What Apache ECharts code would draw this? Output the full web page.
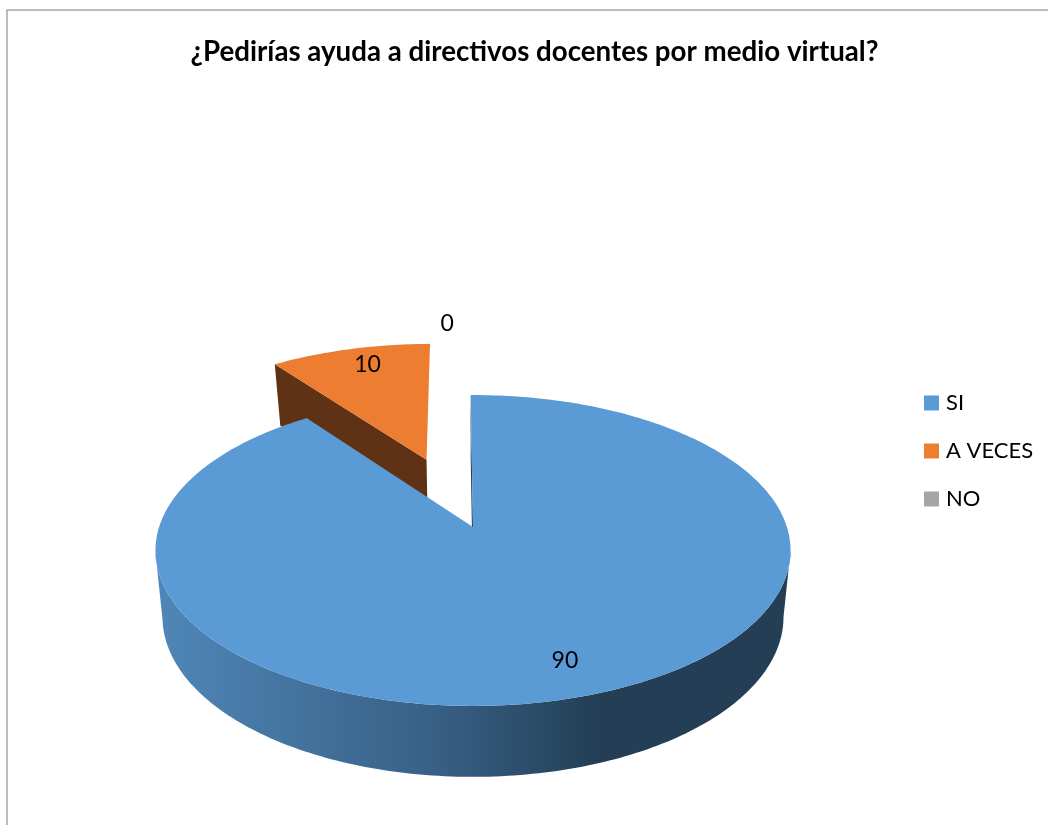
<!DOCTYPE html>
<html>
<head>
<meta charset="utf-8">
<title>Pie</title>
<script src="https://cdn.jsdelivr.net/npm/echarts@6/dist/echarts.min.js"></script>
<style>
  html, body { margin: 0; padding: 0; background: #fff; }
  #chart { width: 1048px; height: 825px; }
</style>
</head>
<body>
<div id="chart"></div>
<script>
const categories = ['SI', 'A VECES', 'NO'];
const values = [90, 10, 0];
const explodes = [0, 0.5, 0];

const topColors = ['#5B9BD5', '#ED7D31', '#A5A5A5'];
const wallColors = ['#233E55', '#5F3215', '#4A4A4A'];

// where each value label sits: radius from the pie centre, and a small angle nudge
const labelRadius = [0.815, 0.85, 1.69];
const labelNudge = [0, 1.9, -3];

// the pie is drawn by hand because echarts has no 3d pie: a circle seen in perspective
const viewTurn = -0.5;
const cx = 473;
const upper = { tipY: 527, a: 313.9, b: 151.9, k: 0.1511 };
const lower = { tipY: 592, a: 306.7, b: 156, k: 0.156 };

const total = values.reduce((s, v) => s + v, 0);

function sliceAngles(idx) {
  let before = 0;
  for (let i = 0; i < idx; i++) before += values[i];
  const start = before / total * 360;
  return [start, start + values[idx] / total * 360];
}

function project(deg, r, ex, midDeg, face) {
  const t = (deg + viewTurn) * Math.PI / 180;
  const m = (midDeg + viewTurn) * Math.PI / 180;
  const X = r * Math.sin(t) + ex * Math.sin(m);
  const Y = -r * Math.cos(t) - ex * Math.cos(m);
  const w = 1 - face.k * Y;
  return [cx + face.a * X / w, face.tipY + face.b * Y / w];
}

function arcPoints(from, to, ex, mid, face) {
  const pts = [];
  const n = Math.max(2, Math.ceil(to - from));
  for (let i = 0; i <= n; i++) {
    pts.push(project(from + (to - from) * i / n, 1, ex, mid, face));
  }
  return pts;
}

function poly(points, fill) {
  return { type: 'polygon', shape: { points: points }, style: { fill: fill }, silent: true };
}

// angle where a face is widest on screen, the rim silhouette runs between these
function widest(face) {
  return Math.acos(-face.k) * 180 / Math.PI - viewTurn;
}

const sideGradient = {
  type: 'linear', x: 156, y: 0, x2: 791, y2: 0, global: true,
  colorStops: [
    { offset: 0, color: '#4F87B8' },
    { offset: 0.45, color: '#375F84' },
    { offset: 0.7, color: '#233E55' },
    { offset: 1, color: '#233E55' }
  ]
};

function renderSlice(idx) {
  return function (params, api) {
    const value = api.value(0);
    const [a0, a1] = sliceAngles(idx);
    const mid = (a0 + a1) / 2;
    const ex = explodes[idx];
    const children = [];

    if (value > 0) {
      const wall = wallColors[idx];
      const c0 = project(0, 0, ex, mid, upper);
      const c1 = project(0, 0, ex, mid, lower);
      const topArc = arcPoints(a0, a1, ex, mid, upper);
      const lowArc = arcPoints(a0, a1, ex, mid, lower);

      // outer rim, only the front half shows
      const f0 = Math.max(a0, widest(upper));
      const f1 = Math.min(a1, 360 - widest(upper));
      if (f1 > f0) {
        const g0 = Math.max(a0, widest(lower));
        const g1 = Math.min(a1, 360 - widest(lower));
        const rimTop = arcPoints(f0, f1, ex, mid, upper);
        const rimLow = arcPoints(g0, g1, ex, mid, lower);
        children.push(poly(rimTop.concat(rimLow.reverse()), sideGradient));
      }
      // the cut wall that faces the viewer
      children.push(poly([c0, topArc[0], lowArc[0], c1], wall));
      // top face
      children.push(poly([c0].concat(topArc), topColors[idx]));
    }

    const p = project(mid + labelNudge[idx], labelRadius[idx], ex, mid, upper);
    children.push({
      type: 'text',
      x: p[0],
      y: p[1] + 1,
      z2: 10,
      silent: true,
      style: {
        text: String(value),
        fill: '#000',
        font: '23px Lato',
        align: 'center',
        verticalAlign: 'middle'
      }
    });
    return { type: 'group', children: children };
  };
}

const chart = echarts.init(document.getElementById('chart'));

chart.setOption({
  animation: false,
  backgroundColor: '#fff',
  title: {
    text: '¿Pedirías ayuda a directivos docentes por medio virtual?',
    left: 529.5,
    top: 33,
    textAlign: 'center',
    textStyle: {
      color: '#000',
      fontFamily: 'Lato',
      fontWeight: 'bold',
      fontSize: 27.7
    }
  },
  legend: {
    orient: 'vertical',
    left: 924,
    top: 392,
    padding: 0,
    itemWidth: 15,
    itemHeight: 15,
    itemGap: 26,
    icon: 'rect',
    selectedMode: false,
    data: categories,
    textStyle: {
      color: '#000',
      fontFamily: 'Lato',
      fontSize: 22,
      padding: [0, 0, 0, 2]
    }
  },
  graphic: [{
    type: 'rect',
    silent: true,
    shape: { x: 7, y: 10, width: 1080, height: 860 },
    style: { fill: 'none', stroke: '#A6A6A6', lineWidth: 1.5 }
  }],
  // orange goes under blue, so the blue series gets the higher z
  series: categories.map((name, i) => ({
    type: 'custom',
    name: name,
    coordinateSystem: 'none',
    z: 5 - i,
    silent: true,
    itemStyle: { color: topColors[i] },
    data: [[values[i]]],
    renderItem: renderSlice(i)
  }))
});
</script>
</body>
</html>
